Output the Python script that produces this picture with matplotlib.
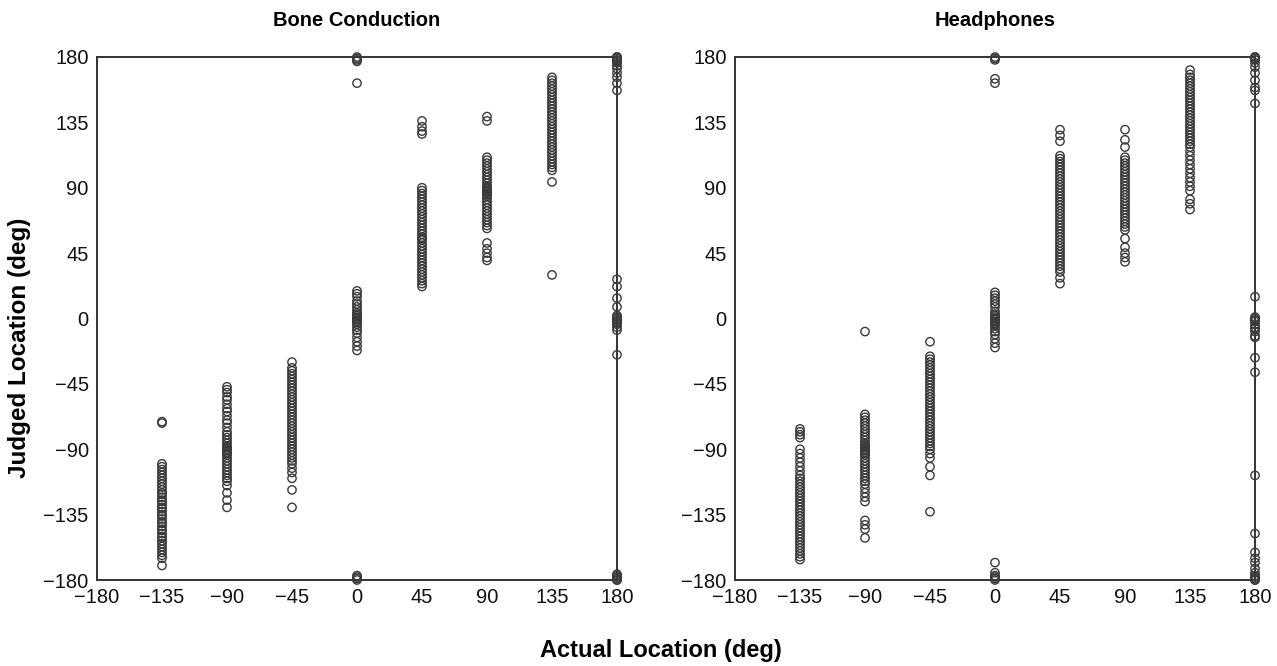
import matplotlib
matplotlib.use("Agg")
from matplotlib import pyplot as plt

plt.rcParams["font.family"] = ["Liberation Sans", "DejaVu Sans"]

# actual source locations (deg)
actual = [-135, -90, -45, 0, 45, 90, 135, 180]

# Bone Conduction: judged locations per actual location
bc_m135 = [-71, -72, -100, -102, -104, -106, -108, -110, -112, -114, -116, -118, -120, -121, -123,
           -125, -126, -128, -130, -131, -133, -135, -136, -138, -140, -141, -143, -145, -146, -148,
           -150, -151, -153, -155, -157, -159, -161, -163, -165, -170]
bc_m90 = [-47, -49, -51, -54, -56, -59, -62, -64, -67, -70, -72, -75, -78, -80, -82, -84, -86, -88,
          -89, -90, -91, -92, -93, -94, -96, -98, -100, -102, -104, -106, -108, -110, -112, -115,
          -120, -125, -130]
bc_m45 = [-30, -34, -36, -38, -40, -42, -44, -46, -48, -50, -52, -54, -56, -58, -60, -62, -64, -66,
          -68, -70, -72, -74, -76, -78, -80, -82, -84, -86, -88, -90, -92, -94, -96, -98, -100,
          -103, -106, -110, -118, -130]
bc_0 = [180, 179, 178, 177, 162, 19, 17, 15, 12, 10, 8, 6, 4, 3, 2, 1, 0, 0, -1, -2, -3, -4, -6,
        -8, -10, -13, -16, -19, -22, -177, -178, -179, -180]
bc_45 = [136, 132, 129, 127, 90, 88, 86, 84, 82, 80, 78, 76, 74, 72, 70, 68, 66, 64, 62, 60, 58,
         56, 55, 54, 52, 50, 48, 46, 44, 42, 40, 38, 36, 34, 32, 30, 28, 26, 24, 22]
bc_90 = [139, 136, 111, 109, 107, 105, 103, 101, 99, 97, 95, 93, 91, 90, 89, 88, 87, 86, 85, 84,
         82, 80, 78, 76, 74, 72, 70, 68, 66, 64, 62, 52, 48, 45, 42, 40]
bc_135 = [166, 164, 162, 160, 158, 156, 154, 152, 150, 148, 146, 144, 142, 140, 138, 136, 134,
          132, 130, 128, 126, 124, 122, 120, 118, 116, 114, 112, 110, 108, 106, 104, 102, 94, 30]
bc_180 = [180, 180, 179, 178, 177, 176, 174, 172, 169, 166, 162, 157, 27, 22, 14, 8, 2, 1, 0, -1,
          -2, -3, -4, -6, -8, -25, -176, -177, -178, -179, -180, -180]

# Headphones
hp_m135 = [-76, -78, -80, -82, -90, -93, -96, -99, -102, -105, -108, -110, -112, -114, -116, -118,
           -120, -122, -124, -126, -128, -130, -132, -134, -136, -138, -140, -142, -144, -146,
           -148, -150, -152, -154, -156, -158, -160, -162, -164, -166]
hp_m90 = [-9, -66, -68, -70, -72, -74, -76, -78, -80, -82, -84, -86, -87, -88, -89, -90, -91, -92,
          -93, -94, -96, -98, -100, -102, -104, -106, -108, -110, -112, -114, -117, -120, -123,
          -126, -139, -142, -145, -151]
hp_m45 = [-16, -26, -28, -30, -32, -34, -36, -38, -40, -42, -44, -46, -48, -50, -52, -54, -56, -58,
          -60, -62, -64, -66, -68, -70, -72, -74, -76, -78, -80, -82, -84, -86, -88, -90, -93,
          -96, -102, -108, -133]
hp_0 = [180, 179, 178, 165, 162, 18, 16, 14, 12, 10, 8, 5, 3, 2, 1, 0, 0, -1, -2, -3, -4, -5, -7,
        -9, -11, -14, -17, -20, -168, -175, -177, -178, -179, -180]
hp_45 = [130, 126, 122, 112, 110, 108, 106, 104, 102, 100, 98, 96, 94, 92, 90, 88, 86, 84, 82, 80,
         78, 76, 74, 72, 70, 68, 66, 64, 62, 60, 58, 56, 54, 52, 50, 48, 46, 44, 42, 40, 38, 36,
         34, 32, 28, 24]
hp_90 = [130, 123, 118, 111, 109, 107, 105, 103, 101, 99, 97, 95, 93, 91, 89, 87, 85, 83, 81, 79,
         77, 75, 73, 71, 69, 67, 65, 63, 61, 55, 49, 45, 42, 39]
hp_135 = [171, 168, 166, 164, 162, 160, 158, 156, 154, 152, 150, 148, 146, 144, 142, 140, 138, 136,
          134, 132, 130, 128, 126, 124, 122, 120, 118, 115, 112, 109, 106, 103, 100, 97, 94, 91,
          88, 82, 79, 75]
hp_180 = [180, 180, 179, 178, 176, 173, 169, 164, 159, 157, 148, 15, 1, 0, -1, -2, -4, -6, -7, -9,
          -12, -13, -27, -37, -108, -148, -161, -165, -168, -172, -175, -177, -178, -179, -180, -180]

panels = [
    ("Bone Conduction", [bc_m135, bc_m90, bc_m45, bc_0, bc_45, bc_90, bc_135, bc_180]),
    ("Headphones", [hp_m135, hp_m90, hp_m45, hp_0, hp_45, hp_90, hp_135, hp_180]),
]

fig = plt.figure(figsize=(12.77, 6.66), dpi=100)
lefts = [97 / 1277, 735 / 1277]
ticks = list(range(-180, 181, 45))

for left, (title, cols) in zip(lefts, panels):
    ax = fig.add_axes([left, 86 / 666, 520 / 1277, 523 / 666])
    for xa, ys in zip(actual, cols):
        ax.scatter([xa] * len(ys), ys, s=36, facecolors="none", edgecolors="#3a3a3a",
                   linewidths=1.0, clip_on=False, zorder=3)
    ax.set_xlim(-180, 180)
    ax.set_ylim(-180, 180)
    ax.set_xticks(ticks)
    ax.set_yticks(ticks)
    ax.tick_params(length=0, labelsize=14.5, pad=6, colors="#111111")
    for sp in ax.spines.values():
        sp.set_color("#333333")
        sp.set_linewidth(1.4)
    ax.set_title(title, fontsize=14.5, fontweight="bold", pad=22)

fig.text(20 / 1277, 318 / 666, "Judged Location (deg)", rotation=90, ha="center",
         va="center", fontsize=17.5, fontweight="bold")
fig.text(661 / 1277, 1 - 650 / 666, "Actual Location (deg)", ha="center", va="center",
         fontsize=17, fontweight="bold")

plt.savefig("out.png")
